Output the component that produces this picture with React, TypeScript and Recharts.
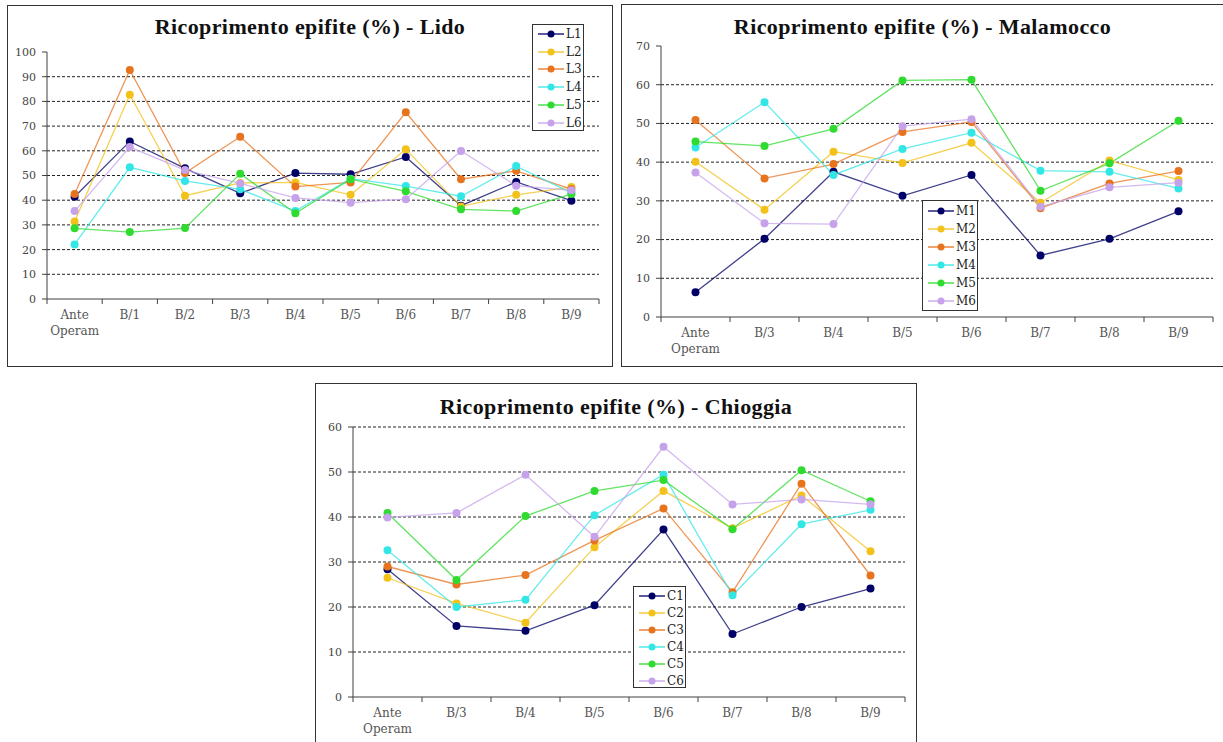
import React from 'react';
import { LineChart, Line, XAxis, YAxis, CartesianGrid, Legend } from 'recharts';

// colours shared by the three panels (series 1..6)
const seriesColors = ['#000066', '#F2C21B', '#E8731E', '#33E6E6', '#2EDB2E', '#C6A2EA'];

// Lido
const lidoCategories = ['Ante Operam', 'B/1', 'B/2', 'B/3', 'B/4', 'B/5', 'B/6', 'B/7', 'B/8', 'B/9'];
const lidoNames = ['L1', 'L2', 'L3', 'L4', 'L5', 'L6'];
const lidoL1 = [41.4, 63.8, 52.9, 42.8, 51.0, 50.5, 57.5, 37.8, 47.4, 39.8];
const lidoL2 = [31.4, 82.7, 41.8, 47.0, 47.2, 42.2, 60.6, 37.5, 42.2, 45.3];
const lidoL3 = [42.5, 92.7, 51.0, 65.7, 45.5, 47.2, 75.6, 48.5, 51.9, 44.5];
const lidoL4 = [22.1, 53.3, 47.8, 44.4, 35.6, 48.7, 45.7, 41.6, 53.8, 43.0];
const lidoL5 = [28.6, 27.1, 28.7, 50.7, 34.7, 48.5, 43.6, 36.3, 35.6, 42.5];
const lidoL6 = [35.6, 61.5, 52.2, 46.8, 40.9, 39.0, 40.4, 59.9, 45.9, 44.0];
const lidoTicks = [0, 10, 20, 30, 40, 50, 60, 70, 80, 90, 100];

// Malamocco
const malCategories = ['Ante Operam', 'B/3', 'B/4', 'B/5', 'B/6', 'B/7', 'B/8', 'B/9'];
const malNames = ['M1', 'M2', 'M3', 'M4', 'M5', 'M6'];
const malM1 = [6.4, 20.2, 37.5, 31.3, 36.7, 15.9, 20.2, 27.3];
const malM2 = [40.1, 27.7, 42.7, 39.8, 45.0, 29.5, 40.4, 35.4];
const malM3 = [50.9, 35.8, 39.5, 47.8, 50.4, 28.1, 34.5, 37.7];
const malM4 = [43.8, 55.5, 36.7, 43.4, 47.6, 37.8, 37.5, 33.2];
const malM5 = [45.3, 44.2, 48.6, 61.1, 61.3, 32.6, 39.7, 50.7];
const malM6 = [37.3, 24.2, 24.0, 49.3, 51.1, 28.5, 33.5, 34.7];
const malTicks = [0, 10, 20, 30, 40, 50, 60, 70];

// Chioggia
const chiCategories = ['Ante Operam', 'B/3', 'B/4', 'B/5', 'B/6', 'B/7', 'B/8', 'B/9'];
const chiNames = ['C1', 'C2', 'C3', 'C4', 'C5', 'C6'];
const chiC1 = [28.4, 15.8, 14.7, 20.4, 37.2, 14.0, 20.0, 24.1];
const chiC2 = [26.5, 20.8, 16.5, 33.3, 45.8, 37.5, 44.8, 32.4];
const chiC3 = [29.0, 25.0, 27.1, 34.8, 41.9, 23.3, 47.4, 27.0];
const chiC4 = [32.6, 20.0, 21.6, 40.4, 49.4, 22.6, 38.4, 41.6];
const chiC5 = [40.9, 26.0, 40.2, 45.8, 48.2, 37.3, 50.4, 43.5];
const chiC6 = [39.9, 40.9, 49.4, 35.6, 55.6, 42.8, 43.9, 42.8];
const chiTicks = [0, 10, 20, 30, 40, 50, 60];

const AXIS = '#404040';
const FONT = '"DejaVu Serif", serif';

function CategoryTick(props: any) {
  const { x, y, payload, index, count, half } = props;
  const h = payload && typeof payload.offset === 'number' && payload.offset > 0 ? payload.offset : half;
  const parts = String(payload.value).split(' ');
  return (
    <g>
      <line x1={x - h} x2={x - h} y1={y} y2={y + 5} stroke={AXIS} />
      {index === count - 1 && <line x1={x + h} x2={x + h} y1={y} y2={y + 5} stroke={AXIS} />}
      <text x={x} y={y + 20} textAnchor="middle" fill="#555" fontSize={12} fontFamily={FONT}>
        {parts.map((p, i) => (
          <tspan key={i} x={x} dy={i === 0 ? 0 : 16}>{p}</tspan>
        ))}
      </text>
    </g>
  );
}

interface Box { left: number; top: number; width: number; height: number }

interface PanelProps {
  title: string;
  titleTop: number;
  categories: string[];
  names: string[];
  values: number[][];
  yTicks: number[];
  gridValues: number[];
  box: Box;
  margin: { top: number; right: number; bottom: number; left: number };
  legend: Box & { rowH: number; padTop: number };
  topBorder: boolean;
}

function Panel({ title, titleTop, categories, names, values, yTicks, gridValues, box, margin, legend, topBorder }: PanelProps) {
  const data = categories.map((c, i) => {
    const row: Record<string, string | number> = { name: c };
    names.forEach((n, k) => { row[n] = values[k][i]; });
    return row;
  });
  const yMax = yTicks[yTicks.length - 1];
  const yWidth = 34;
  const plotW = box.width - margin.left - margin.right - yWidth;
  const half = plotW / categories.length / 2;

  const renderLegend = () => (
    <div style={{ width: legend.width, height: legend.height, boxSizing: 'border-box', border: '1px solid #333', background: '#fff', paddingTop: legend.padTop }}>
      {names.map((n, i) => (
        <div key={n} style={{ height: legend.rowH, display: 'flex', alignItems: 'center' }}>
          <svg width={32} height={10} style={{ display: 'block' }}>
            <line x1={5} x2={31} y1={5} y2={5} stroke={seriesColors[i]} strokeWidth={1.3} />
            <circle cx={18} cy={5} r={3.5} fill={seriesColors[i]} />
          </svg>
          <span style={{ fontFamily: FONT, fontSize: 12, color: '#222', marginLeft: 1, lineHeight: '12px' }}>{n}</span>
        </div>
      ))}
    </div>
  );

  return (
    <>
      <div style={{ position: 'absolute', left: box.left, top: box.top, width: box.width, height: box.height, boxSizing: 'border-box', border: '1px solid #333', background: '#fff' }} />
      <div style={{ position: 'absolute', left: box.left, top: box.top, width: box.width, height: box.height }}>
        <LineChart width={box.width} height={box.height} data={data} margin={margin}>
          <CartesianGrid vertical={false} horizontalValues={gridValues} stroke="#222" strokeDasharray="3 2" xAxisId="c" yAxisId="v" />
          <XAxis
            xAxisId="c"
            dataKey="name"
            scale="band"
            interval={0}
            height={40}
            tickSize={0}
            tickMargin={0}
            tickLine={false}
            axisLine={{ stroke: AXIS }}
            tick={<CategoryTick half={half} count={categories.length} />}
          />
          {topBorder && (
            <XAxis xAxisId="top" orientation="top" dataKey="name" scale="band" height={0} tick={false} tickLine={false} axisLine={{ stroke: '#BBBBBB' }} />
          )}
          <YAxis
            yAxisId="v"
            type="number"
            domain={[0, yMax]}
            ticks={yTicks}
            interval={0}
            width={yWidth}
            tickSize={5}
            tickMargin={6}
            axisLine={{ stroke: AXIS }}
            tickLine={{ stroke: AXIS }}
            tick={{ fontSize: 11, fill: '#444', fontFamily: FONT }}
          />
          <YAxis yAxisId="right" orientation="right" type="number" domain={[0, yMax]} width={0} tick={false} tickLine={false} axisLine={{ stroke: '#BBBBBB' }} />
          {names.map((n, i) => (
            <Line
              key={n}
              xAxisId="c"
              yAxisId="v"
              type="linear"
              dataKey={n}
              stroke={seriesColors[i]}
              strokeOpacity={0.75}
              strokeWidth={1.3}
              dot={{ r: 4, fill: seriesColors[i], stroke: 'none', fillOpacity: 1 }}
              activeDot={false}
              isAnimationActive={false}
            />
          ))}
          <Legend
            layout="vertical"
            align="center"
            verticalAlign="middle"
            content={renderLegend}
            wrapperStyle={{ left: legend.left, top: legend.top, width: legend.width, height: legend.height }}
          />
        </LineChart>
      </div>
      <div style={{ position: 'absolute', left: box.left, top: box.top + titleTop, width: box.width, textAlign: 'center', fontFamily: '"Liberation Serif", serif', fontWeight: 'bold', fontSize: 22, letterSpacing: 0.4, lineHeight: '22px', color: '#111', whiteSpace: 'nowrap' }}>
        {title}
      </div>
    </>
  );
}

export default function App() {
  return (
    <div style={{ position: 'absolute', left: 0, top: 0, width: 1223, height: 742, overflow: 'hidden', background: '#fff' }}>
      <Panel
        title="Ricoprimento epifite (%) - Lido"
        titleTop={11}
        categories={lidoCategories}
        names={lidoNames}
        values={[lidoL1, lidoL2, lidoL3, lidoL4, lidoL5, lidoL6]}
        yTicks={lidoTicks}
        gridValues={[10, 20, 30, 40, 50, 60, 70, 80, 90]}
        box={{ left: 7, top: 5, width: 606, height: 362 }}
        margin={{ top: 47, right: 14, bottom: 28, left: 6 }}
        legend={{ left: 525, top: 19, width: 52, height: 107, rowH: 17.8, padTop: 0 }}
        topBorder
      />
      <Panel
        title="Ricoprimento epifite (%) - Malamocco"
        titleTop={12}
        categories={malCategories}
        names={malNames}
        values={[malM1, malM2, malM3, malM4, malM5, malM6]}
        yTicks={malTicks}
        gridValues={[10, 20, 30, 40, 50, 60]}
        box={{ left: 621, top: 4, width: 603, height: 363 }}
        margin={{ top: 42, right: 11, bottom: 10, left: 6 }}
        legend={{ left: 301, top: 196, width: 56, height: 111, rowH: 18, padTop: 1 }}
        topBorder
      />
      <Panel
        title="Ricoprimento epifite (%) - Chioggia"
        titleTop={13}
        categories={chiCategories}
        names={chiNames}
        values={[chiC1, chiC2, chiC3, chiC4, chiC5, chiC6]}
        yTicks={chiTicks}
        gridValues={[10, 20, 30, 40, 50, 60]}
        box={{ left: 315, top: 383, width: 602, height: 380 }}
        margin={{ top: 44, right: 12, bottom: 26, left: 4 }}
        legend={{ left: 318, top: 203, width: 53, height: 102, rowH: 17, padTop: 0 }}
        topBorder={false}
      />
    </div>
  );
}
